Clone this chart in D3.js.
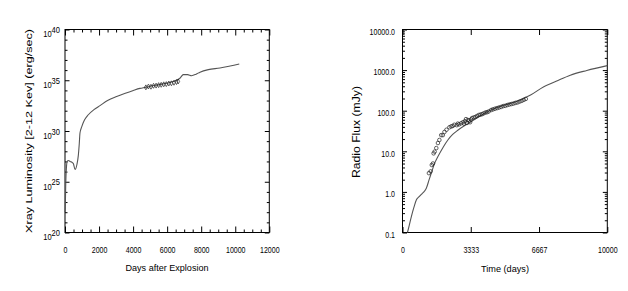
<!DOCTYPE html>
<html>
<head>
<meta charset="utf-8">
<script src="https://cdn.jsdelivr.net/npm/d3@7"></script>
<style>
  body { margin: 0; background: #fff; }
  svg { display: block; font-family: "Liberation Sans", Arial, sans-serif; }
</style>
</head>
<body>
<svg id="chart" width="628" height="291"></svg>
<script>
// left panel: X-ray luminosity model (log10 erg/s) + observed points
const xrayDays = [0, 15, 40, 80, 130, 194, 300, 420, 490, 590, 700, 783, 840, 880, 980, 1150, 1370, 1700, 2055, 2500, 3033, 3500, 4013, 4400, 4700, 5300, 5970, 6400, 6750, 6950, 7200, 7440, 7700, 7930, 8420, 9100, 9700, 10235];
const xrayLogLum = [22.0, 22.4, 24.5, 26.3, 27.0, 27.1, 27.0, 26.9, 26.8, 26.2, 26.7, 27.6, 28.8, 29.8, 30.4, 31.1, 31.6, 32.1, 32.5, 33.0, 33.4, 33.7, 34.0, 34.2, 34.3, 34.5, 34.7, 34.9, 35.2, 35.55, 35.55, 35.45, 35.6, 35.8, 36.05, 36.2, 36.4, 36.6];
const xrayObsDays = [4750, 4900, 5050, 5200, 5350, 5500, 5650, 5800, 5950, 6100, 6250, 6400, 6550, 6650];
const xrayObsLogLum = [34.3, 34.38, 34.36, 34.45, 34.47, 34.52, 34.55, 34.6, 34.62, 34.68, 34.7, 34.75, 34.82, 34.88];
const xrayTicks = [0, 2000, 4000, 6000, 8000, 10000, 12000];
const xrayExponents = [20, 25, 30, 35, 40];

// right panel: radio flux model (mJy) + observed points
const radioDays = [242, 330, 436, 560, 680, 800, 950, 1080, 1163, 1300, 1406, 1550, 1730, 2000, 2215, 2450, 2700, 3000, 3345, 3800, 4314, 4800, 5284, 5800, 6253, 6900, 7500, 8192, 9000, 10000];
const radioFlux = [0.1, 0.15, 0.25, 0.42, 0.64, 0.75, 0.9, 1.05, 1.23, 2.0, 2.9, 4.8, 7.4, 13, 19, 26, 33, 42, 53, 75, 104, 128, 152, 190, 243, 390, 530, 751, 980, 1290];
const radioObsDays = [1290, 1373, 1430, 1487, 1520, 1568, 1650, 1730, 1800, 1890, 1970, 2050, 2150, 2290, 2375, 2450, 2530, 2650, 2700, 2760, 2860, 2950, 3000, 3050, 3100, 3150, 3190, 3250, 3300, 3345, 3400, 3480, 3560, 3640, 3720, 3800, 3880, 3960, 4050, 4130, 4210, 4330, 4420, 4520, 4620, 4720, 4820, 4920, 5020, 5120, 5220, 5320, 5420, 5520, 5620, 5720, 5820, 5920, 6020];
const radioObsFlux = [2.9, 3.2, 4.6, 5.0, 8.9, 9.8, 12, 16, 19, 25, 25, 30, 34, 39, 41, 42, 45, 44, 48, 46, 49, 52, 48, 55, 62, 50, 59, 57, 52, 61, 66, 68, 70, 74, 78, 80, 82, 86, 90, 92, 96, 104, 108, 112, 116, 120, 124, 130, 132, 138, 142, 146, 150, 156, 160, 168, 175, 185, 195];
const radioXTicks = [0, 3333, 6667, 10000];
const radioYTicks = [0.1, 1, 10, 100, 1000, 10000];

const svg = d3.select("#chart");
const plotTop = 29.5, plotBottom = 232.5;

function frame(g, x0, x1) {
  g.append("rect")
    .attr("x", x0).attr("y", plotTop)
    .attr("width", x1 - x0).attr("height", plotBottom - plotTop)
    .attr("fill", "none").attr("stroke", "#000").attr("stroke-width", 1);
}

function styleAxis(ax) {
  ax.select(".domain").remove();
  ax.selectAll("line").attr("stroke", "#000").attr("stroke-width", 1);
  ax.selectAll("text").attr("fill", "#000");
}

// ---------- left panel ----------
const xL = d3.scaleLinear().domain([0, 12000]).range([65, 269.3]);
const yL = d3.scaleLog().domain([1e20, 1e40]).range([plotBottom, plotTop]);
const gL = svg.append("g");

const minorX = d3.range(500, 12000, 500).filter(d => d % 2000 !== 0);
const decades = d3.range(21, 40).filter(e => e % 5 !== 0).map(e => Math.pow(10, e));

[[d3.axisBottom, plotBottom], [d3.axisTop, plotTop]].forEach(([fn, y]) => {
  const a = gL.append("g").attr("transform", `translate(0,${y})`)
    .call(fn(xL).tickValues(minorX).tickSizeInner(-3).tickSizeOuter(0).tickFormat(""));
  styleAxis(a);
  const b = gL.append("g").attr("transform", `translate(0,${y})`)
    .call(fn(xL).tickValues(xrayTicks).tickSizeInner(-6).tickSizeOuter(0)
      .tickFormat(fn === d3.axisBottom ? d3.format("d") : ""));
  styleAxis(b);
  if (fn === d3.axisBottom) {
    b.selectAll("text").attr("y", 20.5).attr("dy", null)
      .attr("font-size", 9.5).attr("transform", "scale(0.74,1)");
  }
});

[[d3.axisLeft, 65], [d3.axisRight, 269.3]].forEach(([fn, x]) => {
  const a = gL.append("g").attr("transform", `translate(${x},0)`)
    .call(fn(yL).tickValues(decades).tickSizeInner(-2.5).tickSizeOuter(0).tickFormat(""));
  styleAxis(a);
  const b = gL.append("g").attr("transform", `translate(${x},0)`)
    .call(fn(yL).tickValues(xrayExponents.map(e => Math.pow(10, e))).tickSizeInner(-4.5).tickSizeOuter(0).tickFormat(""));
  styleAxis(b);
  if (fn === d3.axisLeft) {
    b.selectAll(".tick").append("text")
      .attr("text-anchor", "end")
      .attr("font-size", 8.8)
      .attr("fill", "#000")
      .attr("transform", "translate(-5,0) scale(0.86,1)")
      .each(function(d) {
        const t = d3.select(this);
        t.append("tspan").attr("y", 7.3).text("10");
        t.append("tspan").attr("dy", -4.3).text(Math.round(Math.log10(d)));
      });
  }
});

frame(gL, 65, 269.3);

const lineL = d3.line()
  .x((d, i) => xL(xrayDays[i]))
  .y(d => yL(Math.pow(10, d)))
  .curve(d3.curveMonotoneX);
gL.append("path")
  .datum(xrayLogLum)
  .attr("d", lineL)
  .attr("fill", "none").attr("stroke", "#555").attr("stroke-width", 1.1);

gL.selectAll(".obs")
  .data(xrayObsDays)
  .join("path")
  .attr("transform", (d, i) => `translate(${xL(d)},${yL(Math.pow(10, xrayObsLogLum[i]))})`)
  .attr("d", d3.symbol(d3.symbolDiamond, 7))
  .attr("fill", "none").attr("stroke", "#222").attr("stroke-width", 0.7);

gL.append("text")
  .attr("x", 167).attr("y", 271)
  .attr("text-anchor", "middle").attr("font-size", 9)
  .attr("textLength", 83).attr("lengthAdjust", "spacingAndGlyphs")
  .text("Days after Explosion");

gL.append("text")
  .attr("transform", "translate(31.5,131) rotate(-90)")
  .attr("text-anchor", "middle").attr("font-size", 9.5)
  .attr("textLength", 204).attr("lengthAdjust", "spacingAndGlyphs")
  .text("Xray Luminosity [2-12 Kev]  (erg/sec)");

// ---------- right panel ----------
const xR = d3.scaleLinear().domain([0, 10000]).range([402.5, 607.3]);
const yR = d3.scaleLog().domain([0.1, 10000]).range([plotBottom, plotTop]);
const gR = svg.append("g");

const minorY = [];
radioYTicks.slice(0, -1).forEach(p => d3.range(2, 10).forEach(k => minorY.push(p * k)));

[[d3.axisBottom, plotBottom], [d3.axisTop, plotTop]].forEach(([fn, y]) => {
  const b = gR.append("g").attr("transform", `translate(0,${y})`)
    .call(fn(xR).tickValues(radioXTicks).tickSizeInner(-5.5).tickSizeOuter(0)
      .tickFormat(fn === d3.axisBottom ? d3.format("d") : ""));
  styleAxis(b);
  if (fn === d3.axisBottom) {
    b.selectAll("text").attr("y", 20.5).attr("dy", null)
      .attr("font-size", 9.5).attr("transform", "scale(0.74,1)");
  }
});

[[d3.axisLeft, 402.5], [d3.axisRight, 607.3]].forEach(([fn, x]) => {
  const a = gR.append("g").attr("transform", `translate(${x},0)`)
    .call(fn(yR).tickValues(minorY).tickSizeInner(-2.5).tickSizeOuter(0).tickFormat(""));
  styleAxis(a);
  const b = gR.append("g").attr("transform", `translate(${x},0)`)
    .call(fn(yR).tickValues(radioYTicks).tickSizeInner(-4.5).tickSizeOuter(0)
      .tickFormat(fn === d3.axisLeft ? d3.format(".1f") : ""));
  styleAxis(b);
  if (fn === d3.axisLeft) {
    b.selectAll("text").attr("x", null).attr("dy", null).attr("y", 4.8)
      .attr("font-size", 9.5).attr("transform", "translate(-7.5,0) scale(0.74,1)");
  }
});

frame(gR, 402.5, 607.3);

const lineR = d3.line()
  .x((d, i) => xR(radioDays[i]))
  .y(d => yR(d))
  .curve(d3.curveMonotoneX);
gR.append("path")
  .datum(radioFlux)
  .attr("d", lineR)
  .attr("fill", "none").attr("stroke", "#555").attr("stroke-width", 1.1);

gR.selectAll(".obs")
  .data(radioObsDays)
  .join("circle")
  .attr("cx", d => xR(d))
  .attr("cy", (d, i) => yR(radioObsFlux[i]))
  .attr("r", 1.8)
  .attr("fill", "none").attr("stroke", "#222").attr("stroke-width", 0.7);

gR.append("text")
  .attr("x", 505).attr("y", 272)
  .attr("text-anchor", "middle").attr("font-size", 9.5)
  .attr("textLength", 48).attr("lengthAdjust", "spacingAndGlyphs")
  .text("Time (days)");

gR.append("text")
  .attr("transform", "translate(359.5,132) rotate(-90)")
  .attr("text-anchor", "middle").attr("font-size", 10)
  .attr("textLength", 92).attr("lengthAdjust", "spacingAndGlyphs")
  .text("Radio Flux (mJy)");
</script>
</body>
</html>
